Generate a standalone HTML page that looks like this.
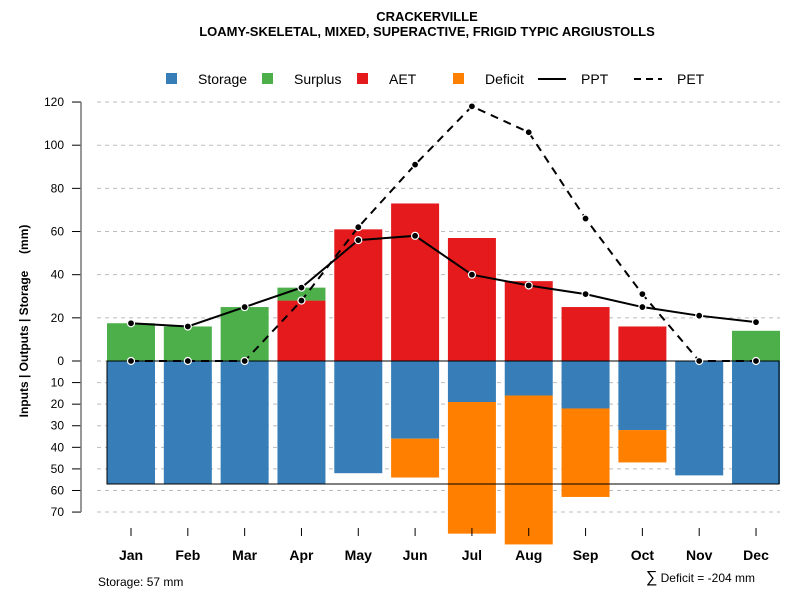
<!DOCTYPE html>
<html><head><meta charset="utf-8"><style>
body{margin:0;background:#fff}
svg{font-family:"Liberation Sans",sans-serif}
</style></head><body>
<svg id="c" width="800" height="600" xmlns="http://www.w3.org/2000/svg">
<text x="427" y="21" text-anchor="middle" font-size="13" font-weight="bold">CRACKERVILLE</text>
<text x="427" y="36" text-anchor="middle" font-size="13" font-weight="bold">LOAMY-SKELETAL, MIXED, SUPERACTIVE, FRIGID TYPIC ARGIUSTOLLS</text>
<g>
<rect x="166" y="73" width="11" height="11" fill="#377EB8"/>
<text x="198" y="84" font-size="14">Storage</text>
<rect x="262" y="73" width="11" height="11" fill="#4DAF4A"/>
<text x="294" y="84" font-size="14">Surplus</text>
<rect x="357" y="73" width="11" height="11" fill="#E41A1C"/>
<text x="389" y="84" font-size="14">AET</text>
<rect x="453" y="73" width="11" height="11" fill="#FF7F00"/>
<text x="485" y="84" font-size="14">Deficit</text>
<line x1="538" y1="79" x2="566" y2="79" stroke="#000" stroke-width="2"/>
<text x="581" y="84" font-size="14">PPT</text>
<line x1="634" y1="79" x2="662" y2="79" stroke="#000" stroke-width="2" stroke-dasharray="7,5"/>
<text x="677" y="84" font-size="14">PET</text>
</g>
<text transform="translate(28,321) rotate(-90)" text-anchor="middle" font-size="12" font-weight="bold" xml:space="preserve">Inputs | Outputs | Storage     (mm)</text>
<text x="98" y="586" font-size="12">Storage: 57 mm</text>
<text x="755" y="582" text-anchor="end" font-size="12"><tspan font-size="16">∑</tspan> Deficit = -204 mm</text>
<g id="grid"></g><g id="bars"></g><g id="lines"></g><g id="axes"></g>
</svg>
<script>
const months=["Jan","Feb","Mar","Apr","May","Jun","Jul","Aug","Sep","Oct","Nov","Dec"];
const storage=[57,57,57,57,52,36,19,16,22,32,53,57];
const deficit=[0,0,0,0,0,18,61,69,41,15,0,0];
const aet=[0,0,0,28,61,73,57,37,25,16,0,0];
const surplus=[17.5,16,25,6,0,0,0,0,0,0,0,14];
const ppt=[17.5,16,25,34,56,58,40,35,31,25,21,18];
const pet=[0,0,0,28,62,91,118,106,66,31,0,0];
const posTicks=[0,20,40,60,80,100,120];
const negTicks=[10,20,30,40,50,60,70];
const awc=57;
const NS="http://www.w3.org/2000/svg";
const y=v=>361-v*2.158;
const x=i=>131+i*56.82;
const bw=48;
function mk(p,t,a){const e=document.createElementNS(NS,t);for(const k in a)e.setAttribute(k,a[k]);document.getElementById(p).appendChild(e);return e;}
posTicks.concat(negTicks.map(v=>-v)).forEach(v=>{
 const g=mk("grid","line",{x1:97,x2:780,y1:y(v),y2:y(v),stroke:"#bbb","stroke-dasharray":"4,4"});
 
 
 const t=mk("axes","line",{x1:72,x2:81,y1:y(v),y2:y(v),stroke:"#000"});
 
 
 const l=mk("axes","text",{x:64,y:y(v)+4,"text-anchor":"end","font-size":"12"});
 l.textContent=Math.abs(v);
 
 
});
const ax=mk("axes","line",{x1:81,x2:81,y1:y(120),y2:y(-70),stroke:"#777","stroke-width":1.5});


months.forEach((m,i)=>{
 const cx=x(i),l=cx-bw/2;
 let r=mk("bars","rect",{x:l,y:y(0),width:bw,height:y(-storage[i])-y(0),fill:"#377EB8"});
 
 
 if(deficit[i]>0){r=mk("bars","rect",{x:l,y:y(-storage[i]),width:bw,height:y(-storage[i]-deficit[i])-y(-storage[i]),fill:"#FF7F00"});
 
 }
 if(aet[i]>0){r=mk("bars","rect",{x:l,y:y(aet[i]),width:bw,height:y(0)-y(aet[i]),fill:"#E41A1C"});
 
 }
 if(surplus[i]>0){r=mk("bars","rect",{x:l,y:y(aet[i]+surplus[i]),width:bw,height:y(aet[i])-y(aet[i]+surplus[i]),fill:"#4DAF4A"});
 
 }
 const t=mk("axes","line",{x1:cx,x2:cx,y1:528,y2:536,stroke:"#000"});
 
 
 const tl=mk("axes","text",{x:cx,y:560,"text-anchor":"middle","font-size":"14","font-weight":"bold"});
 tl.textContent=m;
 
 
});
const box=mk("bars","rect",{x:107,y:y(0),width:672,height:y(-awc)-y(0),fill:"none",stroke:"#000","stroke-width":1});


function series(arr,name,dash){
 const p=mk("lines","polyline",{points:arr.map((v,i)=>x(i)+","+y(v)).join(" "),fill:"none",stroke:"#000","stroke-width":2,"stroke-dasharray":dash});
 
 
 arr.forEach((v,i)=>{const c=mk("lines","circle",{cx:x(i),cy:y(v),r:3.5,fill:"#000",stroke:"#fff","stroke-width":1.2});
 
 });
}
series(pet,"pet","8,6");
series(ppt,"ppt","none");
</script>
</body></html>
